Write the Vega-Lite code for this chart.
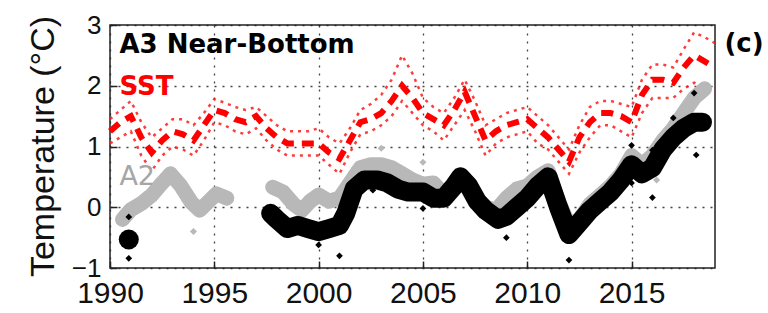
{
  "$schema": "https://vega.github.io/schema/vega-lite/v6.json",
  "width": 605,
  "height": 243,
  "autosize": {"type": "none"},
  "padding": {"left": 110, "top": 25, "right": 53, "bottom": 45},
  "background": "white",
  "config": {
    "view": {"stroke": "#222", "strokeWidth": 1.5},
    "axis": {
      "labelFont": "Liberation Sans",
      "titleFont": "Liberation Sans",
      "labelColor": "#111",
      "titleColor": "#111",
      "domain": false,
      "tickColor": "#222",
      "tickSize": -7,
      "tickWidth": 1.5,
      "grid": true,
      "gridColor": "#222",
      "gridDash": [2, 6],
      "gridWidth": 1.3,
      "gridOpacity": 0.85,
      "labelOverlap": false
    },
    "axisX": {"format": "d", "labelFontSize": 30, "labelPadding": 17, "labelFlush": false, "tickCount": 6},
    "axisY": {"format": "d", "labelFontSize": 26, "labelPadding": 16, "tickCount": 5,
              "titleFontSize": 34, "titleFontWeight": "normal", "titleX": -57, "titleY": 121, "titleBaseline": "alphabetic", "titleAngle": 270, "titleAlign": "center"}
  },
  "datasets": {
    "sst_hi": [
      {"year": 1990.0, "temp": 1.45}, {"year": 1990.5, "temp": 1.6}, {"year": 1991.0, "temp": 1.75}, {"year": 1991.5, "temp": 1.4},
      {"year": 1992.0, "temp": 1.15}, {"year": 1992.5, "temp": 1.3}, {"year": 1993.0, "temp": 1.45}, {"year": 1993.5, "temp": 1.45},
      {"year": 1994.0, "temp": 1.35}, {"year": 1994.5, "temp": 1.55}, {"year": 1995.0, "temp": 1.78}, {"year": 1995.5, "temp": 1.72},
      {"year": 1996.0, "temp": 1.65}, {"year": 1996.5, "temp": 1.6}, {"year": 1997.0, "temp": 1.65}, {"year": 1997.5, "temp": 1.5},
      {"year": 1998.0, "temp": 1.35}, {"year": 1998.5, "temp": 1.25}, {"year": 1999.0, "temp": 1.25}, {"year": 1999.5, "temp": 1.25},
      {"year": 2000.0, "temp": 1.3}, {"year": 2000.5, "temp": 1.15}, {"year": 2001.0, "temp": 1.05}, {"year": 2001.5, "temp": 1.3},
      {"year": 2002.0, "temp": 1.6}, {"year": 2002.5, "temp": 1.7}, {"year": 2003.0, "temp": 1.85}, {"year": 2003.5, "temp": 2.1},
      {"year": 2004.0, "temp": 2.5}, {"year": 2004.5, "temp": 2.2}, {"year": 2005.0, "temp": 1.8}, {"year": 2005.5, "temp": 1.65},
      {"year": 2006.0, "temp": 1.55}, {"year": 2006.5, "temp": 1.8}, {"year": 2007.0, "temp": 2.1}, {"year": 2007.5, "temp": 1.75},
      {"year": 2008.0, "temp": 1.35}, {"year": 2008.5, "temp": 1.45}, {"year": 2009.0, "temp": 1.55}, {"year": 2009.5, "temp": 1.6},
      {"year": 2010.0, "temp": 1.65}, {"year": 2010.5, "temp": 1.5}, {"year": 2011.0, "temp": 1.35}, {"year": 2011.5, "temp": 1.15},
      {"year": 2012.0, "temp": 0.95}, {"year": 2012.5, "temp": 1.35}, {"year": 2013.0, "temp": 1.65}, {"year": 2013.5, "temp": 1.75},
      {"year": 2014.0, "temp": 1.75}, {"year": 2014.5, "temp": 1.7}, {"year": 2015.0, "temp": 1.65}, {"year": 2015.5, "temp": 2.1},
      {"year": 2016.0, "temp": 2.35}, {"year": 2016.5, "temp": 2.35}, {"year": 2017.0, "temp": 2.3}, {"year": 2017.5, "temp": 2.6},
      {"year": 2018.0, "temp": 2.88}, {"year": 2018.5, "temp": 2.8}, {"year": 2019.0, "temp": 2.7}
    ],
    "sst_lo": [
      {"year": 1990.0, "temp": 1.05}, {"year": 1990.5, "temp": 1.15}, {"year": 1991.0, "temp": 1.25}, {"year": 1991.5, "temp": 0.85},
      {"year": 1992.0, "temp": 0.6}, {"year": 1992.5, "temp": 0.85}, {"year": 1993.0, "temp": 1.0}, {"year": 1993.5, "temp": 0.95},
      {"year": 1994.0, "temp": 0.85}, {"year": 1994.5, "temp": 1.1}, {"year": 1995.0, "temp": 1.4}, {"year": 1995.5, "temp": 1.35},
      {"year": 1996.0, "temp": 1.25}, {"year": 1996.5, "temp": 1.2}, {"year": 1997.0, "temp": 1.3}, {"year": 1997.5, "temp": 1.1},
      {"year": 1998.0, "temp": 0.95}, {"year": 1998.5, "temp": 0.85}, {"year": 1999.0, "temp": 0.85}, {"year": 1999.5, "temp": 0.85},
      {"year": 2000.0, "temp": 0.85}, {"year": 2000.5, "temp": 0.7}, {"year": 2001.0, "temp": 0.55}, {"year": 2001.5, "temp": 0.9},
      {"year": 2002.0, "temp": 1.2}, {"year": 2002.5, "temp": 1.25}, {"year": 2003.0, "temp": 1.35}, {"year": 2003.5, "temp": 1.5},
      {"year": 2004.0, "temp": 1.75}, {"year": 2004.5, "temp": 1.55}, {"year": 2005.0, "temp": 1.35}, {"year": 2005.5, "temp": 1.25},
      {"year": 2006.0, "temp": 1.1}, {"year": 2006.5, "temp": 1.35}, {"year": 2007.0, "temp": 1.6}, {"year": 2007.5, "temp": 1.25},
      {"year": 2008.0, "temp": 0.85}, {"year": 2008.5, "temp": 1.05}, {"year": 2009.0, "temp": 1.15}, {"year": 2009.5, "temp": 1.2},
      {"year": 2010.0, "temp": 1.25}, {"year": 2010.5, "temp": 1.05}, {"year": 2011.0, "temp": 0.95}, {"year": 2011.5, "temp": 0.75},
      {"year": 2012.0, "temp": 0.55}, {"year": 2012.5, "temp": 0.9}, {"year": 2013.0, "temp": 1.15}, {"year": 2013.5, "temp": 1.35},
      {"year": 2014.0, "temp": 1.35}, {"year": 2014.5, "temp": 1.25}, {"year": 2015.0, "temp": 1.15}, {"year": 2015.5, "temp": 1.55},
      {"year": 2016.0, "temp": 1.8}, {"year": 2016.5, "temp": 1.8}, {"year": 2017.0, "temp": 1.8}, {"year": 2017.5, "temp": 1.95},
      {"year": 2018.0, "temp": 2.05}, {"year": 2018.5, "temp": 1.95}, {"year": 2019.0, "temp": 1.9}
    ],
    "sst": [
      {"year": 1990.0, "temp": 1.25}, {"year": 1990.5, "temp": 1.4}, {"year": 1991.0, "temp": 1.5}, {"year": 1991.5, "temp": 1.15},
      {"year": 1992.0, "temp": 0.9}, {"year": 1992.5, "temp": 1.1}, {"year": 1993.0, "temp": 1.25}, {"year": 1993.5, "temp": 1.2},
      {"year": 1994.0, "temp": 1.1}, {"year": 1994.5, "temp": 1.35}, {"year": 1995.0, "temp": 1.6}, {"year": 1995.5, "temp": 1.55},
      {"year": 1996.0, "temp": 1.45}, {"year": 1996.5, "temp": 1.4}, {"year": 1997.0, "temp": 1.5}, {"year": 1997.5, "temp": 1.3},
      {"year": 1998.0, "temp": 1.15}, {"year": 1998.5, "temp": 1.05}, {"year": 1999.0, "temp": 1.05}, {"year": 1999.5, "temp": 1.05},
      {"year": 2000.0, "temp": 1.05}, {"year": 2000.5, "temp": 0.9}, {"year": 2001.0, "temp": 0.8}, {"year": 2001.5, "temp": 1.1},
      {"year": 2002.0, "temp": 1.4}, {"year": 2002.5, "temp": 1.45}, {"year": 2003.0, "temp": 1.55}, {"year": 2003.5, "temp": 1.75},
      {"year": 2004.0, "temp": 2.0}, {"year": 2004.5, "temp": 1.8}, {"year": 2005.0, "temp": 1.55}, {"year": 2005.5, "temp": 1.45},
      {"year": 2006.0, "temp": 1.35}, {"year": 2006.5, "temp": 1.6}, {"year": 2007.0, "temp": 1.9}, {"year": 2007.5, "temp": 1.5},
      {"year": 2008.0, "temp": 1.1}, {"year": 2008.5, "temp": 1.25}, {"year": 2009.0, "temp": 1.35}, {"year": 2009.5, "temp": 1.4},
      {"year": 2010.0, "temp": 1.45}, {"year": 2010.5, "temp": 1.3}, {"year": 2011.0, "temp": 1.15}, {"year": 2011.5, "temp": 0.95},
      {"year": 2012.0, "temp": 0.75}, {"year": 2012.5, "temp": 1.15}, {"year": 2013.0, "temp": 1.4}, {"year": 2013.5, "temp": 1.55},
      {"year": 2014.0, "temp": 1.55}, {"year": 2014.5, "temp": 1.5}, {"year": 2015.0, "temp": 1.4}, {"year": 2015.5, "temp": 1.85},
      {"year": 2016.0, "temp": 2.1}, {"year": 2016.5, "temp": 2.1}, {"year": 2017.0, "temp": 2.05}, {"year": 2017.5, "temp": 2.3},
      {"year": 2018.0, "temp": 2.5}, {"year": 2018.5, "temp": 2.4}, {"year": 2019.0, "temp": 2.3}
    ],
    "a2": [
      {"seg": 1, "year": 1990.6, "temp": -0.2},
      {"seg": 1, "year": 1991.0, "temp": -0.04},
      {"seg": 1, "year": 1991.5, "temp": 0.06},
      {"seg": 1, "year": 1992.0, "temp": 0.2},
      {"seg": 1, "year": 1992.5, "temp": 0.4},
      {"seg": 1, "year": 1992.9, "temp": 0.55},
      {"seg": 1, "year": 1993.4, "temp": 0.35},
      {"seg": 1, "year": 1993.9, "temp": 0.08},
      {"seg": 1, "year": 1994.3, "temp": -0.05},
      {"seg": 1, "year": 1994.8, "temp": 0.12},
      {"seg": 1, "year": 1995.1, "temp": 0.22},
      {"seg": 1, "year": 1995.6, "temp": 0.15},
      {"seg": 2, "year": 1997.8, "temp": 0.33},
      {"seg": 2, "year": 1998.3, "temp": 0.25},
      {"seg": 2, "year": 1998.8, "temp": 0.05},
      {"seg": 2, "year": 1999.2, "temp": -0.05},
      {"seg": 2, "year": 1999.6, "temp": 0.1},
      {"seg": 2, "year": 2000.0, "temp": 0.2},
      {"seg": 2, "year": 2000.5, "temp": 0.1},
      {"seg": 2, "year": 2001.0, "temp": 0.15},
      {"seg": 2, "year": 2001.5, "temp": 0.4},
      {"seg": 2, "year": 2002.0, "temp": 0.65},
      {"seg": 2, "year": 2002.5, "temp": 0.7},
      {"seg": 2, "year": 2003.0, "temp": 0.7},
      {"seg": 2, "year": 2003.5, "temp": 0.65},
      {"seg": 2, "year": 2004.0, "temp": 0.55},
      {"seg": 2, "year": 2004.5, "temp": 0.45},
      {"seg": 2, "year": 2005.0, "temp": 0.38},
      {"seg": 2, "year": 2005.5, "temp": 0.4},
      {"seg": 2, "year": 2006.0, "temp": 0.22},
      {"seg": 2, "year": 2006.5, "temp": 0.35},
      {"seg": 2, "year": 2006.8, "temp": 0.5},
      {"seg": 2, "year": 2007.5, "temp": 0.15},
      {"seg": 2, "year": 2008.0, "temp": 0.0},
      {"seg": 2, "year": 2008.5, "temp": -0.05},
      {"seg": 2, "year": 2009.0, "temp": 0.15},
      {"seg": 2, "year": 2009.5, "temp": 0.3},
      {"seg": 2, "year": 2010.0, "temp": 0.35},
      {"seg": 2, "year": 2010.5, "temp": 0.5},
      {"seg": 2, "year": 2011.0, "temp": 0.6},
      {"seg": 2, "year": 2011.5, "temp": 0.1},
      {"seg": 2, "year": 2012.0, "temp": -0.3},
      {"seg": 2, "year": 2012.5, "temp": -0.2},
      {"seg": 2, "year": 2013.0, "temp": 0.05},
      {"seg": 2, "year": 2013.5, "temp": 0.2},
      {"seg": 2, "year": 2014.0, "temp": 0.35},
      {"seg": 2, "year": 2014.5, "temp": 0.55},
      {"seg": 2, "year": 2015.0, "temp": 0.85},
      {"seg": 2, "year": 2015.5, "temp": 0.7},
      {"seg": 2, "year": 2016.0, "temp": 0.85},
      {"seg": 2, "year": 2016.5, "temp": 1.1},
      {"seg": 2, "year": 2017.0, "temp": 1.3},
      {"seg": 2, "year": 2017.5, "temp": 1.55},
      {"seg": 2, "year": 2018.0, "temp": 1.8},
      {"seg": 2, "year": 2018.5, "temp": 1.95}
    ],
    "a3": [
      {"year": 1997.7, "temp": -0.1},
      {"year": 1998.0, "temp": -0.2},
      {"year": 1998.5, "temp": -0.35},
      {"year": 1999.0, "temp": -0.3},
      {"year": 1999.5, "temp": -0.35},
      {"year": 2000.0, "temp": -0.4},
      {"year": 2000.5, "temp": -0.35},
      {"year": 2001.0, "temp": -0.3},
      {"year": 2001.3, "temp": -0.1},
      {"year": 2001.7, "temp": 0.3},
      {"year": 2002.2, "temp": 0.45},
      {"year": 2002.8, "temp": 0.45},
      {"year": 2003.3, "temp": 0.4},
      {"year": 2003.8, "temp": 0.3},
      {"year": 2004.3, "temp": 0.25},
      {"year": 2005.0, "temp": 0.25},
      {"year": 2005.5, "temp": 0.15},
      {"year": 2006.0, "temp": 0.15},
      {"year": 2006.5, "temp": 0.35},
      {"year": 2006.8, "temp": 0.5},
      {"year": 2007.2, "temp": 0.35},
      {"year": 2007.6, "temp": 0.1},
      {"year": 2008.0, "temp": -0.05},
      {"year": 2008.6, "temp": -0.2},
      {"year": 2009.0, "temp": -0.15},
      {"year": 2009.5, "temp": 0.0},
      {"year": 2010.0, "temp": 0.15},
      {"year": 2010.5, "temp": 0.35},
      {"year": 2011.0, "temp": 0.5},
      {"year": 2011.5, "temp": 0.0},
      {"year": 2012.0, "temp": -0.45},
      {"year": 2012.5, "temp": -0.25},
      {"year": 2013.0, "temp": -0.05},
      {"year": 2013.5, "temp": 0.1},
      {"year": 2014.0, "temp": 0.25},
      {"year": 2014.5, "temp": 0.45},
      {"year": 2015.0, "temp": 0.7},
      {"year": 2015.5, "temp": 0.55},
      {"year": 2016.0, "temp": 0.65},
      {"year": 2016.5, "temp": 0.95},
      {"year": 2017.0, "temp": 1.15},
      {"year": 2017.5, "temp": 1.3},
      {"year": 2018.0, "temp": 1.4},
      {"year": 2018.4, "temp": 1.4}
    ],
    "blackpts": [
      {"year": 1990.9, "temp": -0.16},
      {"year": 1990.9, "temp": -0.84},
      {"year": 2000.0, "temp": -0.62},
      {"year": 2001.0, "temp": -0.8},
      {"year": 2002.6, "temp": 0.28},
      {"year": 2005.0, "temp": -0.02},
      {"year": 2009.0, "temp": -0.5},
      {"year": 2012.0, "temp": -0.87},
      {"year": 2015.0, "temp": 0.4},
      {"year": 2015.0, "temp": 1.02},
      {"year": 2016.0, "temp": 0.16},
      {"year": 2016.0, "temp": 0.94},
      {"year": 2017.0, "temp": 1.47},
      {"year": 2018.0, "temp": 1.88},
      {"year": 2018.1, "temp": 0.86}
    ],
    "graypts": [
      {"year": 2003.0, "temp": 0.97},
      {"year": 2005.0, "temp": 0.74},
      {"year": 2016.2, "temp": 0.45},
      {"year": 1994.0, "temp": -0.4}
    ],
    "bigdot": [
      {"year": 1990.9, "temp": -0.53}
    ]
  },
  "layer": [
    {
      "data": {"name": "sst_hi"},
      "mark": {"type": "line", "color": "#ff1a1a", "strokeWidth": 2.5, "strokeDash": [3, 5], "opacity": 0.85},
      "encoding": {
        "x": {"field": "year", "type": "quantitative", "scale": {"domain": [1990, 2019], "nice": false, "zero": false},
              "axis": {"title": null}},
        "y": {"field": "temp", "type": "quantitative", "scale": {"domain": [-1, 3], "nice": false, "zero": false},
              "axis": {"title": "Temperature (°C)"}}
      }
    },
    {
      "data": {"name": "sst_lo"},
      "mark": {"type": "line", "color": "#ff1a1a", "strokeWidth": 2.5, "strokeDash": [3, 5], "opacity": 0.85},
      "encoding": {
        "x": {"field": "year", "type": "quantitative", "scale": {"domain": [1990, 2019]}},
        "y": {"field": "temp", "type": "quantitative", "scale": {"domain": [-1, 3]}}
      }
    },
    {
      "data": {"name": "a2"},
      "mark": {"type": "line", "color": "#b8b8b8", "strokeWidth": 15, "strokeCap": "round", "strokeJoin": "round"},
      "encoding": {
        "x": {"field": "year", "type": "quantitative", "scale": {"domain": [1990, 2019]}},
        "y": {"field": "temp", "type": "quantitative", "scale": {"domain": [-1, 3]}},
        "detail": {"field": "seg", "type": "nominal"}
      }
    },
    {
      "data": {"name": "graypts"},
      "mark": {"type": "point", "shape": "diamond", "filled": true, "color": "#b8b8b8", "size": 50, "opacity": 1},
      "encoding": {
        "x": {"field": "year", "type": "quantitative", "scale": {"domain": [1990, 2019]}},
        "y": {"field": "temp", "type": "quantitative", "scale": {"domain": [-1, 3]}}
      }
    },
    {
      "data": {"name": "a3"},
      "mark": {"type": "line", "color": "#000000", "strokeWidth": 19, "strokeCap": "round", "strokeJoin": "round"},
      "encoding": {
        "x": {"field": "year", "type": "quantitative", "scale": {"domain": [1990, 2019]}},
        "y": {"field": "temp", "type": "quantitative", "scale": {"domain": [-1, 3]}}
      }
    },
    {
      "data": {"name": "blackpts"},
      "mark": {"type": "point", "shape": "diamond", "filled": true, "color": "#000000", "size": 45, "opacity": 1},
      "encoding": {
        "x": {"field": "year", "type": "quantitative", "scale": {"domain": [1990, 2019]}},
        "y": {"field": "temp", "type": "quantitative", "scale": {"domain": [-1, 3]}}
      }
    },
    {
      "data": {"name": "bigdot"},
      "mark": {"type": "point", "shape": "circle", "filled": true, "color": "#000000", "size": 400, "opacity": 1},
      "encoding": {
        "x": {"field": "year", "type": "quantitative", "scale": {"domain": [1990, 2019]}},
        "y": {"field": "temp", "type": "quantitative", "scale": {"domain": [-1, 3]}}
      }
    },
    {
      "data": {"name": "sst"},
      "mark": {"type": "line", "color": "#ff0000", "strokeWidth": 6, "strokeDash": [12, 8]},
      "encoding": {
        "x": {"field": "year", "type": "quantitative", "scale": {"domain": [1990, 2019]}},
        "y": {"field": "temp", "type": "quantitative", "scale": {"domain": [-1, 3]}}
      }
    },
    {
      "data": {"values": [{"label": "A3 Near-Bottom"}]},
      "mark": {"type": "text", "font": "DejaVu Sans", "fontWeight": "bold", "fontSize": 26, "align": "left", "baseline": "alphabetic", "color": "#000"},
      "encoding": {
        "text": {"field": "label", "type": "nominal"},
        "x": {"datum": 1990.45, "type": "quantitative", "scale": {"domain": [1990, 2019]}},
        "y": {"datum": 2.54, "type": "quantitative", "scale": {"domain": [-1, 3]}}
      }
    },
    {
      "data": {"values": [{"label": "SST"}]},
      "mark": {"type": "text", "font": "DejaVu Sans", "fontWeight": "bold", "fontSize": 26, "align": "left", "baseline": "alphabetic", "color": "#ff0000"},
      "encoding": {
        "text": {"field": "label", "type": "nominal"},
        "x": {"datum": 1990.45, "type": "quantitative", "scale": {"domain": [1990, 2019]}},
        "y": {"datum": 1.84, "type": "quantitative", "scale": {"domain": [-1, 3]}}
      }
    },
    {
      "data": {"values": [{"label": "A2"}]},
      "mark": {"type": "text", "font": "DejaVu Sans", "fontSize": 27, "align": "left", "baseline": "alphabetic", "color": "#a6a6a6"},
      "encoding": {
        "text": {"field": "label", "type": "nominal"},
        "x": {"datum": 1990.45, "type": "quantitative", "scale": {"domain": [1990, 2019]}},
        "y": {"datum": 0.36, "type": "quantitative", "scale": {"domain": [-1, 3]}}
      }
    },
    {
      "data": {"values": [{"label": "(c)"}]},
      "mark": {"type": "text", "font": "DejaVu Sans", "fontWeight": "bold", "fontSize": 26, "align": "left", "baseline": "alphabetic", "color": "#000", "clip": false},
      "encoding": {
        "text": {"field": "label", "type": "nominal"},
        "x": {"datum": 2019.45, "type": "quantitative", "scale": {"domain": [1990, 2019]}},
        "y": {"datum": 2.55, "type": "quantitative", "scale": {"domain": [-1, 3]}}
      }
    }
  ]
}
